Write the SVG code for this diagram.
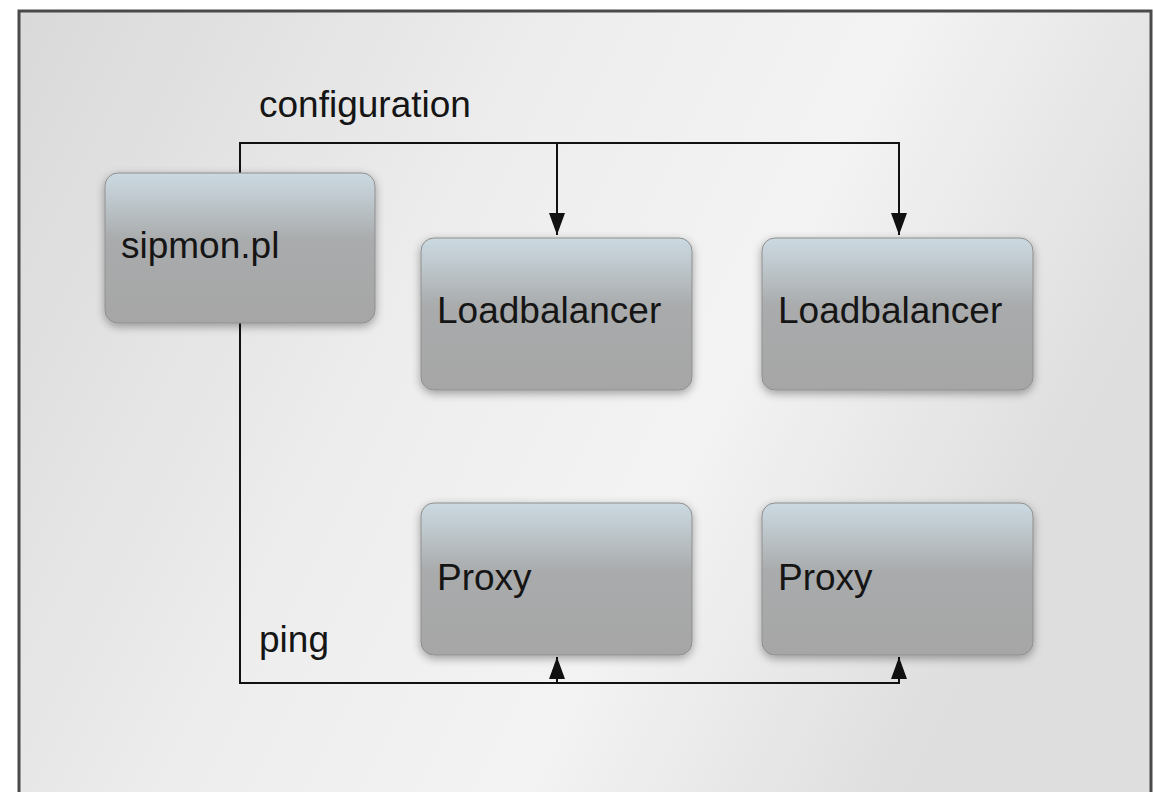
<svg xmlns="http://www.w3.org/2000/svg" width="1154" height="792" viewBox="0 0 1154 792">
  <defs>
    <linearGradient id="bg" x1="0" y1="0" x2="1" y2="0.35">
      <stop offset="0" stop-color="#d9d9d9"/>
      <stop offset="0.45" stop-color="#eeeeee"/>
      <stop offset="0.7" stop-color="#f3f3f3"/>
      <stop offset="1" stop-color="#dedede"/>
    </linearGradient>
    <linearGradient id="nodeFill" x1="0" y1="0" x2="0" y2="1">
      <stop offset="0" stop-color="#cbd9e1"/>
      <stop offset="0.12" stop-color="#c3ced4"/>
      <stop offset="0.45" stop-color="#a9abac"/>
      <stop offset="1" stop-color="#a6a6a6"/>
    </linearGradient>
    <filter id="shadow" x="-10%" y="-10%" width="120%" height="125%">
      <feGaussianBlur in="SourceAlpha" stdDeviation="5"/>
      <feOffset dx="0" dy="3" result="b"/>
      <feComponentTransfer><feFuncA type="linear" slope="0.35"/></feComponentTransfer>
      <feMerge><feMergeNode/><feMergeNode in="SourceGraphic"/></feMerge>
    </filter>
    <marker id="arrow" viewBox="0 0 22 18" refX="22" refY="9" markerWidth="22" markerHeight="18" markerUnits="userSpaceOnUse" orient="auto">
      <path d="M0,1 L22,9 L0,17 z" fill="#111"/>
    </marker>
    <style>
      .node rect { fill: url(#nodeFill); stroke: #8e8e8e; stroke-width: 1; filter: url(#shadow); }
      .label { font-family: "Liberation Sans", Arial, sans-serif; font-size: 37px; fill: #151515; }
      .wire { fill: none; stroke: #111; stroke-width: 2; }
    </style>
  </defs>

  <!-- page background and frame -->
  <rect x="0" y="0" width="1154" height="792" fill="#ffffff"/>
  <rect x="19" y="11" width="1132" height="800" fill="url(#bg)" stroke="#4a4a4a" stroke-width="3"/>

  <!-- connectors -->
  <g id="connectors">
    <path class="wire" d="M240,173 V143 H899 V235" marker-end="url(#arrow)"/>
    <path class="wire" d="M557,143 V235" marker-end="url(#arrow)"/>
    <path class="wire" d="M240,323 V683 H899 V657" marker-end="url(#arrow)"/>
    <path class="wire" d="M557,683 V657" marker-end="url(#arrow)"/>
    <text class="label" x="259" y="117">configuration</text>
    <text class="label" x="259" y="652">ping</text>
  </g>

  <!-- nodes -->
  <g id="sipmon" class="node">
    <rect x="105" y="173" width="270" height="150" rx="13"/>
    <text class="label" x="121" y="258">sipmon.pl</text>
  </g>
  <g id="loadbalancer1" class="node">
    <rect x="421" y="238" width="271" height="152" rx="13"/>
    <text class="label" x="437" y="323">Loadbalancer</text>
  </g>
  <g id="loadbalancer2" class="node">
    <rect x="762" y="238" width="271" height="152" rx="13"/>
    <text class="label" x="778" y="323">Loadbalancer</text>
  </g>
  <g id="proxy1" class="node">
    <rect x="421" y="503" width="271" height="152" rx="13"/>
    <text class="label" x="437" y="590">Proxy</text>
  </g>
  <g id="proxy2" class="node">
    <rect x="762" y="503" width="271" height="152" rx="13"/>
    <text class="label" x="778" y="590">Proxy</text>
  </g>
</svg>
